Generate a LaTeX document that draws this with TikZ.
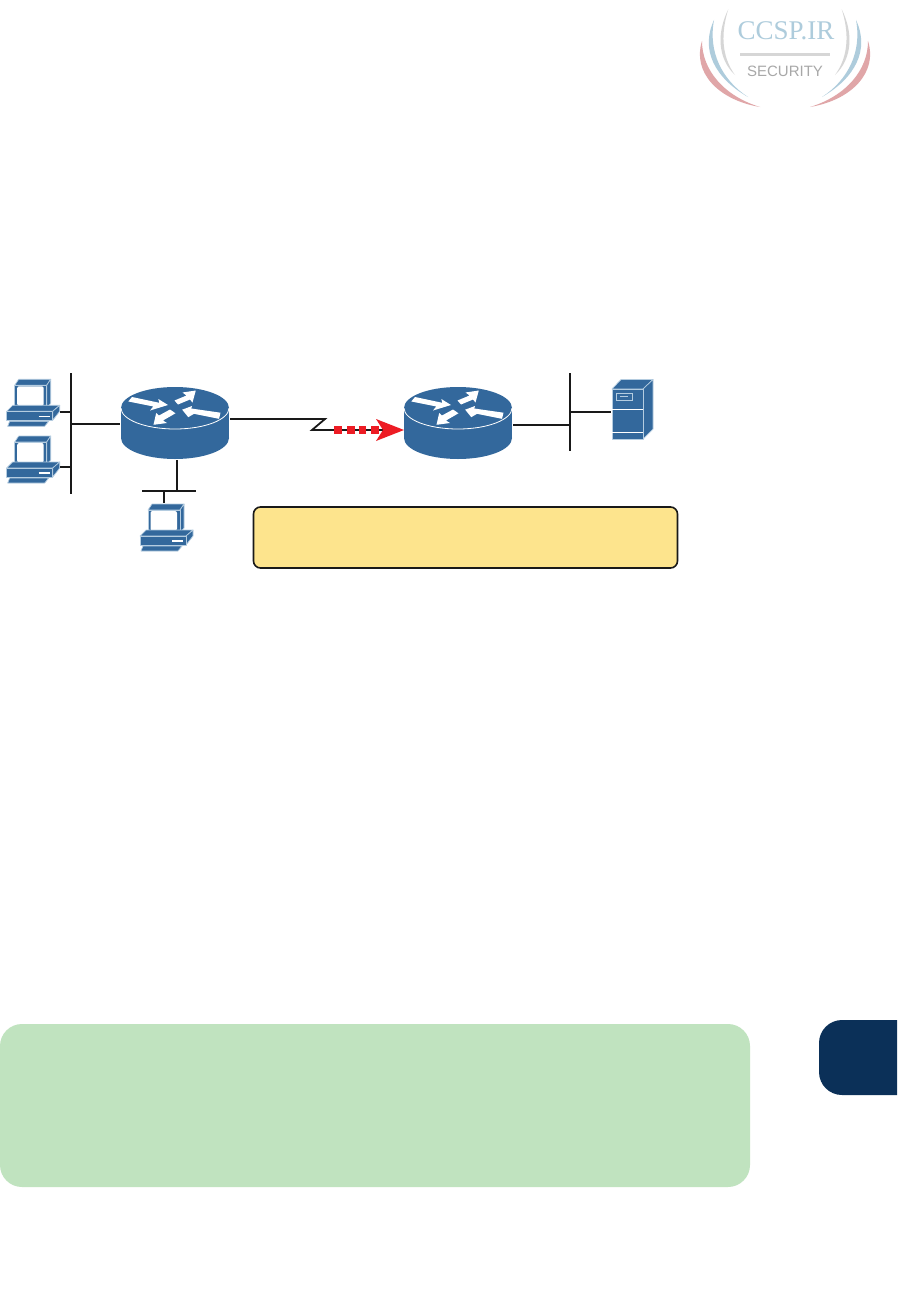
\documentclass[tikz,border=0pt]{standalone}
\usepackage{fontspec}
\setmainfont{Liberation Serif}
\newfontfamily\wmsans{Liberation Sans}
\definecolor{ciscoblue}{HTML}{33689C}
\definecolor{ciscoedge}{HTML}{B4CCE0}
\definecolor{notefill}{HTML}{FDE48D}
\definecolor{greenfill}{HTML}{C0E3BF}
\definecolor{tabnavy}{HTML}{0B3058}
\definecolor{wanred}{HTML}{ED1C24}
\definecolor{wmblue}{HTML}{AECCDC}
\definecolor{wmgrey}{HTML}{D6D6D6}
\definecolor{wmred}{HTML}{E0A6A8}
\definecolor{wmtext}{HTML}{A8A8A8}
\tikzset{
  x=1pt,y=-1pt,
  wire/.style={draw=black!90,line width=1.8pt},
  pcline/.style={draw=ciscoedge,line width=0.7pt,fill=ciscoblue,line join=round},
  crescent/.style={line join=round},
  pics/routericon/.style={code={
    \fill[ciscoblue] (-54,0) rectangle (54,30);
    \fill[ciscoblue] (0,30) ellipse [x radius=54pt,y radius=21pt];
    \fill[ciscoblue] (0,0) ellipse [x radius=54pt,y radius=21pt];
    \draw[white,line width=0.8pt] (-54,0) arc [start angle=180,end angle=360,x radius=54pt,y radius=21pt];
    \fill[white] (-46.7,-6.5) -- (-43,-11) -- (-15.7,-5.2) -- (-16.7,-9) -- (-7,-3) -- (-25,2.5) -- (-21.7,-1.5) -- cycle;
    \fill[white] (20.8,-17.5) -- (7.5,-15.5) -- (11.5,-12.5) -- (-0.5,-7.5) -- (3,-3.5) -- (15,-8.5) -- (17.5,-5.5) -- cycle;
    \fill[white] (7.2,1.7) -- (17,-2) -- (16.3,0.5) -- (45.5,4.7) -- (44,10.8) -- (19,5.8) -- (13.3,9.2) -- cycle;
    \fill[white] (-21.5,16.8) -- (-8,15) -- (-12,12.5) -- (0.5,5.3) -- (-5,1.5) -- (-16,7.5) -- (-18.8,5) -- cycle;
  }},
  pics/pcicon/.style={code={
    \draw[pcline] (8,6) -- (12,0) -- (44,0) -- (40,6) -- cycle;
    \draw[pcline] (40,6) -- (44,0) -- (44,24) -- (40,29) -- cycle;
    \draw[pcline] (8,6) rectangle (40,29);
    \fill[white,rounded corners=2pt] (10.5,7) rectangle (37,26.5);
    \draw[pcline] (0,32) -- (6,26) -- (53,26) -- (46,32) -- cycle;
    \draw[pcline] (46,32) -- (53,26) -- (53,32) -- (46,41) -- cycle;
    \draw[pcline] (0,32) rectangle (46,41);
    \draw[white,line width=1.4pt] (32,37) -- (43,37);
    \draw[pcline] (3,42) -- (42,42) -- (38,47) -- (1,47) -- cycle;
  }},
  pics/servericon/.style={code={
    \draw[pcline] (0,10) -- (9,0.5) -- (41,0.5) -- (31,10) -- cycle;
    \draw[pcline] (31,10) -- (41,0.5) -- (41,50) -- (31,60) -- cycle;
    \draw[pcline] (0,10) rectangle (31,60);
    \draw[white,line width=0.8pt] (0,30) -- (31,30);
    \draw[white,line width=0.8pt] (0,53) -- (31,53);
    \draw[ciscoedge,line width=0.9pt] (4,14) rectangle (20,21);
    \draw[ciscoedge,line width=0.9pt] (8,17.5) -- (16,17.5);
  }}
}
\begin{document}
\begin{tikzpicture}
\useasboundingbox (0,0) rectangle (897,1314);
\fill[white] (0,0) rectangle (897,1314);

% watermark
\foreach \mx/\sx in {0/1,1570/-1}{
  \begin{scope}[xshift=\mx pt,xscale=\sx]
    \fill[wmgrey,crescent] (728.3,9.3) .. controls (717,32) and (717,58) .. (735,75) .. controls (721,56) and (721,32) .. (728.3,9.3) -- cycle;
    \fill[wmblue,crescent] (714,20) .. controls (700,50) and (715,78) .. (748,97) .. controls (722,80) and (708,52) .. (714,20) -- cycle;
    \fill[wmred,crescent] (702,41) .. controls (692,72) and (718,100) .. (760,107) .. controls (724,96) and (702,70) .. (702,41) -- cycle;
  \end{scope}
}
\node[inner sep=0pt,text=wmblue,font=\fontsize{27}{27}\selectfont] (wmtitle) at (786,31) {CCSP.IR};
\draw[wmgrey,line width=3pt] (740,55) -- (830,55);
\node[inner sep=0pt,text=wmtext,font=\wmsans\fontsize{15}{15}\selectfont] (wmsub) at (785,71) {SECURITY};

% routers, hosts
\pic at (175,408) {routericon};
\pic at (458,408) {routericon};
\pic at (6.7,379.3) {pcicon};
\pic at (6.7,436) {pcicon};
\pic at (140,504) {pcicon};
\pic at (612,379) {servericon};

% connection points
\coordinate (busLt) at (71,373);
\coordinate (busLb) at (71,494);
\coordinate (pcA) at (60,412);
\coordinate (busA) at (71,412);
\coordinate (pcB) at (60,467);
\coordinate (busB) at (71,467);
\coordinate (busR) at (71,424);
\coordinate (rOneW) at (120,424);
\coordinate (rOneS) at (177,460);
\coordinate (busCj) at (177,491);
\coordinate (busCl) at (142,491);
\coordinate (busCr) at (196,491);
\coordinate (busCp) at (164,491);
\coordinate (pcC) at (164,503);
\coordinate (rOneE) at (230,419);
\coordinate (zigA) at (325,419);
\coordinate (zigB) at (312,430);
\coordinate (rTwoW) at (390,430);
\coordinate (rTwoE) at (513,425);
\coordinate (busDj) at (570,425);
\coordinate (busDt) at (570,373);
\coordinate (busDb) at (570,451);
\coordinate (busDs) at (570,412);
\coordinate (srv) at (611,412);

\draw[wire] (busLt) -- (busLb);
\draw[wire] (pcA) -- (busA);
\draw[wire] (pcB) -- (busB);
\draw[wire] (busR) -- (rOneW);
\draw[wire] (rOneS) -- (busCj);
\draw[wire] (busCl) -- (busCr);
\draw[wire] (busCp) -- (pcC);
\draw[wire] (rOneE) -- (zigA) -- (zigB) -- (rTwoW);
\draw[wire] (rTwoE) -- (busDj);
\draw[wire] (busDt) -- (busDb);
\draw[wire] (busDs) -- (srv);

% red flow arrow
\fill[wanred] (334,426) rectangle (342,434);
\fill[wanred] (346.5,426) rectangle (354.5,434);
\fill[wanred] (358.5,426) rectangle (366,434);
\fill[wanred] (370.5,426) rectangle (378.5,434);
\fill[wanred] (404,430) -- (376,419) -- (383,430) -- (376,441) -- cycle;

% callout and panels
\node[draw=black!90,line width=1.6pt,fill=notefill,rounded corners=7pt,minimum width=424pt,minimum height=61pt,inner sep=0pt] (note) at (465.5,537.5) {};
\node[fill=greenfill,rounded corners=22pt,minimum width=750pt,minimum height=163pt,inner sep=0pt] (panel) at (375,1105.5) {};
\fill[tabnavy] (897,1020) -- (842,1020) arc [start angle=90,end angle=180,radius=23pt] -- (819,1072) arc [start angle=180,end angle=270,radius=23pt] -- (897,1095) -- cycle;
\end{tikzpicture}
\end{document}
